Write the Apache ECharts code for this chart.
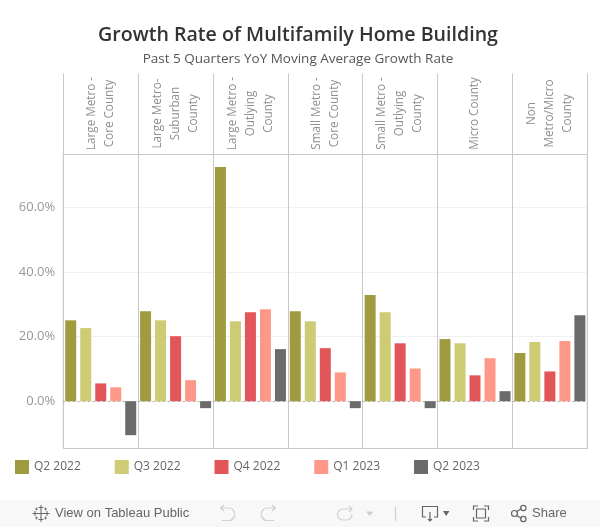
<!DOCTYPE html>
<html>
<head>
<meta charset="utf-8">
<title>Growth Rate of Multifamily Home Building</title>
<style>
  html, body { margin: 0; padding: 0; background: #fff; }
  #main { width: 600px; height: 527px; }
</style>
<script src="https://cdn.jsdelivr.net/npm/echarts@6/dist/echarts.min.js"></script>
</head>
<body>
<div id="main"></div>
<script>
const categories = [
    'Large Metro -\nCore County',
    'Large Metro-\nSuburban\nCounty',
    'Large Metro -\nOutlying\nCounty',
    'Small Metro -\nCore County',
    'Small Metro -\nOutlying\nCounty',
    'Micro County',
    'Non\nMetro/Micro\nCounty'
];
const quarters = ['Q2 2022', 'Q3 2022', 'Q4 2022', 'Q1 2023', 'Q2 2023'];
const colors = ['#a09b3e', '#cdcb74', '#e2565a', '#ff9888', '#6b6b6b'];
const yTicks = [0, 20, 40, 60];

// in percent
const q2_2022 = [25.0, 27.8, 72.4, 27.8, 32.8, 19.2, 14.9];
const q3_2022 = [22.6, 25.0, 24.7, 24.7, 27.5, 17.9, 18.3];
const q4_2022 = [5.5, 20.1, 27.5, 16.4, 17.9, 8.0, 9.2];
const q1_2023 = [4.3, 6.5, 28.4, 8.9, 10.1, 13.3, 18.6];
const q2_2023 = [-10.5, -2.15, 16.1, -2.15, -2.15, 3.1, 26.6];
const seriesValues = [q2_2022, q3_2022, q4_2022, q1_2023, q2_2023];

const borderColor = '#c8c8c8';
const footerIcon = '#666666';
const footerOff = '#cfcfcf';

// graphic has no plain path element, so each icon gets a registered shape
let iconCount = 0;
function iconType(path) {
    const name = 'footerIcon' + (iconCount++);
    echarts.graphic.registerShape(name, echarts.graphic.extendPath(path));
    return name;
}

function line(path, stroke, width) {
    return {type: iconType(path), style: {fill: 'none', stroke: stroke, lineWidth: width || 1.2}};
}

function solid(path, fill) {
    return {type: iconType(path), style: {fill: fill}};
}

const footer = [
    {type: 'rect', shape: {x: 0, y: 500, width: 600, height: 27}, style: {fill: '#f8f8f8'}, z: -1},
    // tableau logo
    line('M41 509.5V517.5M37 513.5H45M41 505V510M38.5 507.5H43.5M41 517V522M38.5 519.5H43.5M35 511V516M32.5 513.5H37.5M47 511V516M44.5 513.5H49.5', footerIcon, 1),
    line('M36.5 507.5V510.5M35 509H38M45.5 507.5V510.5M44 509H47M36.5 516.5V519.5M35 518H38M45.5 516.5V519.5M44 518H47', footerIcon, 0.8),
    {type: 'text', style: {x: 55, y: 513.5, text: 'View on Tableau Public', fill: '#666666',
        font: '13px "Liberation Sans"', verticalAlign: 'middle'}},
    // undo, redo, revert
    line('M220 508H230A6.5 6.5 0 0 1 230 520.5H222M224 505L220.5 508L224 511', footerOff),
    line('M276 508H266A6.5 6.5 0 0 0 266 520.5H274M272 505L275.5 508L272 511', footerOff),
    line('M352 509H343A5.5 5.5 0 0 0 343 520H347A5.5 5.5 0 0 0 352 514M349 506L352 509L349 512', footerOff),
    solid('M366 511.5H373.5L369.7 516Z', footerOff),
    line('M395.5 507V521', footerOff),
    // download
    line('M426 517H422.5V506.5H437.5V517H434M430 512V521M428 519L430 521L432 519', footerIcon),
    solid('M443 511H449.5L446.2 516Z', footerIcon),
    // full screen
    line('M473.5 510V506H478M484 506H488.5V510M488.5 517V521H484M478 521H473.5V517', footerIcon),
    line('M476.5 509H485.5V518H476.5Z', footerIcon),
    // share
    line('M516 512L521.5 508.5M516 515L521.5 518.5', footerIcon),
    line('M517.5 513.5A3 3 0 1 1 511.5 513.5A3 3 0 1 1 517.5 513.5Z', footerIcon),
    line('M526 508A2.7 2.7 0 1 1 520.6 508A2.7 2.7 0 1 1 526 508Z', footerIcon),
    line('M526 519A2.7 2.7 0 1 1 520.6 519A2.7 2.7 0 1 1 526 519Z', footerIcon),
    {type: 'text', style: {x: 532, y: 513.5, text: 'Share', fill: '#666666',
        font: '13px "Liberation Sans"', verticalAlign: 'middle'}}
];

const chart = echarts.init(document.getElementById('main'), null, {renderer: 'canvas'});

const option = {
    animation: false,
    backgroundColor: '#ffffff',
    textStyle: {fontFamily: 'Open Sans'},
    title: {
        text: 'Growth Rate of Multifamily Home Building',
        subtext: 'Past 5 Quarters YoY Moving Average Growth Rate',
        left: 293,
        top: 20,
        textAlign: 'center',
        itemGap: 7,
        textStyle: {fontSize: 19.6, fontWeight: 600, color: '#333333', fontFamily: 'Open Sans'},
        subtextStyle: {fontSize: 13.5, color: '#555555', fontFamily: 'Open Sans'}
    },
    legend: {
        data: quarters,
        left: 15,
        top: 460,
        padding: 0,
        icon: 'rect',
        itemWidth: 14,
        itemHeight: 14,
        itemGap: 34,
        itemStyle: {borderWidth: 0},
        textStyle: {fontSize: 12, color: '#666666'}
    },
    grid: {
        left: 63.3,
        right: 12.7,
        top: 154.5,
        bottom: 78.5,
        show: true,
        borderWidth: 1,
        borderColor: borderColor
    },
    xAxis: [
        {
            type: 'category',
            position: 'top',
            data: categories,
            axisLine: {onZero: false, lineStyle: {color: borderColor}},
            // header cell dividers run up from the top of the plot
            axisTick: {show: true, length: 81, lineStyle: {color: borderColor}},
            splitLine: {show: true, lineStyle: {color: borderColor}},
            axisLabel: {
                interval: 0,
                rotate: -90,
                margin: 41,
                align: 'center',
                verticalAlign: 'middle',
                padding: [0, 0, 5, 0],
                fontSize: 11.7,
                lineHeight: 18,
                color: '#8f8f8f'
            }
        },
        {
            // dotted zero baseline
            type: 'category',
            position: 'bottom',
            data: categories,
            axisLine: {onZero: true, lineStyle: {color: '#aaaaaa', type: [1, 4], width: 1}},
            axisTick: {show: false},
            axisLabel: {show: false},
            splitLine: {show: false}
        }
    ],
    yAxis: {
        type: 'value',
        min: -14.62,
        max: 76.26,
        axisLine: {show: false},
        axisTick: {show: false, customValues: yTicks},
        splitLine: {lineStyle: {color: '#f0f0f0'}},
        axisLabel: {
            customValues: yTicks,
            margin: 8,
            fontSize: 13,
            color: '#999999',
            formatter: function (value) {
                return value.toFixed(1) + '%';
            }
        }
    },
    series: quarters.map(function (name, i) {
        return {
            name: name,
            type: 'bar',
            xAxisIndex: 0,
            data: seriesValues[i],
            barWidth: 11,
            barGap: '36.4%',
            itemStyle: {color: colors[i]}
        };
    }),
    graphic: {elements: footer}
};

chart.setOption(option);
</script>
</body>
</html>
